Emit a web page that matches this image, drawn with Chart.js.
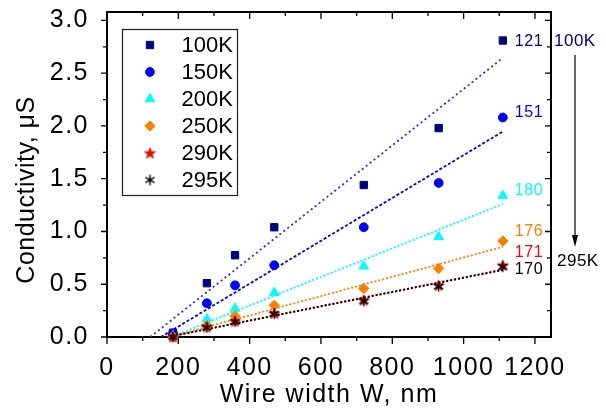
<!DOCTYPE html>
<html>
<head>
<meta charset="utf-8">
<script src="https://cdn.jsdelivr.net/npm/chart.js@4.4.1/dist/chart.umd.min.js"></script>
<style>
  html, body { margin: 0; padding: 0; background: #fff; }
</style>
</head>
<body>
<canvas id="cond" width="606" height="409"></canvas>
<script>
// wire width W, nm
var widths = [185, 280, 359, 469, 720, 930, 1110];
var temps = ['100K', '150K', '200K', '250K', '290K', '295K'];

// conductivity, uS
var g100 = [0.04, 0.51, 0.775, 1.04, 1.44, 1.98, 2.81];
var g150 = [0.035, 0.32, 0.49, 0.68, 1.04, 1.46, 2.08];
var g200 = [0.01, 0.17, 0.27, 0.42, 0.67, 0.95, 1.34];
var g250 = [0.005, 0.11, 0.2, 0.3, 0.46, 0.65, 0.91];
var g290 = [0.0, 0.095, 0.15, 0.225, 0.35, 0.49, 0.68];
var g295 = [0.0, 0.09, 0.145, 0.22, 0.34, 0.48, 0.665];
var series = [g100, g150, g200, g250, g290, g295];

// linear fits: x-intercept (nm) and fitted value at the widest wire
var intercepts = [121, 151, 180, 176, 171, 170];
var fitEnd = [2.645, 1.947, 1.26, 0.854, 0.64, 0.635];
var fitTo = 1110;

var xTicks = [0, 200, 400, 600, 800, 1000, 1200];
var xMinor = [100, 300, 500, 700, 900, 1100];
var yTicks = [0, 0.5, 1, 1.5, 2, 2.5, 3];
var yMinor = [0.25, 0.75, 1.25, 1.75, 2.25, 2.75];

var colors = ['#000080', '#0000ff', '#00ffff', '#ff8000', '#ff0000', '#000000'];
var fitColors = ['#2a2aff', '#0000ff', '#00ffff', '#ff8000', '#ff0000', '#000000'];
var fitDash = [[2, 3], [3, 2], [2, 2], [2, 2], [2, 2], [2, 2]];
// where the intercept numbers sit, in uS
var tagY = [2.81, 2.14, 1.40, 1.01, 0.81, 0.65];

var FONT = '"Liberation Sans", Arial, sans-serif';

function starImage(color) {
    var c = document.createElement('canvas');
    c.width = 13; c.height = 13;
    var g = c.getContext('2d');
    g.fillStyle = color;
    g.strokeStyle = '#b00000';
    g.lineWidth = 0.6;
    g.beginPath();
    for (var k = 0; k < 10; k++) {
        var r = k % 2 ? 2.4 : 6;
        var ang = -Math.PI / 2 + k * Math.PI / 5;
        g.lineTo(6.5 + r * Math.cos(ang), 7 + r * Math.sin(ang));
    }
    g.closePath();
    g.fill();
    g.stroke();
    return c;
}

function asteriskImage(color) {
    var c = document.createElement('canvas');
    c.width = 13; c.height = 13;
    var g = c.getContext('2d');
    g.strokeStyle = color;
    g.lineWidth = 1.4;
    g.beginPath();
    for (var k = 0; k < 3; k++) {
        var ang = Math.PI / 2 + k * Math.PI / 3;
        var dx = 5.3 * Math.cos(ang), dy = 5.3 * Math.sin(ang);
        g.moveTo(6.5 + dx, 6.5 + dy);
        g.lineTo(6.5 - dx, 6.5 - dy);
    }
    g.stroke();
    return c;
}

var markers = ['rect', 'circle', 'triangle', 'rectRot', starImage('#ff0000'), asteriskImage('#000000')];
var radii = [5.2, 4.4, 5.5, 5.2, 6, 6];

var datasets = [];
temps.forEach(function (t, i) {
    datasets.push({
        label: t + ' fit',
        data: [{ x: intercepts[i], y: 0 }, { x: fitTo, y: fitEnd[i] }],
        showLine: true,
        borderColor: fitColors[i],
        borderWidth: 1.8,
        borderDash: fitDash[i],
        pointRadius: 0,
        order: 20 - i
    });
});
// higher temperatures are drawn over the lower ones
temps.forEach(function (t, i) {
    datasets.push({
        label: t,
        data: widths.map(function (w, k) { return { x: w, y: series[i][k] }; }),
        showLine: false,
        pointStyle: markers[i],
        pointRadius: radii[i],
        pointBackgroundColor: colors[i],
        pointBorderColor: colors[i],
        pointBorderWidth: 1,
        clip: false,
        order: 6 - i
    });
});

var framePlugin = {
    id: 'frame',
    beforeDraw: function (chart) {
        chart.ctx.letterSpacing = '1.5px';
    },
    beforeDatasetsDraw: function (chart) {
        var ctx = chart.ctx, a = chart.chartArea;
        var sx = chart.scales.x, sy = chart.scales.y;
        ctx.save();
        ctx.strokeStyle = '#000';
        ctx.lineWidth = 1.3;
        ctx.beginPath();
        function xt(v, len) {
            var p = sx.getPixelForValue(v);
            ctx.moveTo(p, a.bottom); ctx.lineTo(p, a.bottom + len);
            ctx.moveTo(p, a.top); ctx.lineTo(p, a.top + len);
        }
        function yt(v, len) {
            var p = sy.getPixelForValue(v);
            ctx.moveTo(a.left, p); ctx.lineTo(a.left - len, p);
            ctx.moveTo(a.right, p); ctx.lineTo(a.right - len, p);
        }
        xTicks.forEach(function (v) { xt(v, 7); });
        xMinor.forEach(function (v) { xt(v, 4); });
        yTicks.forEach(function (v) { yt(v, 6); });
        yMinor.forEach(function (v) { yt(v, 4); });
        ctx.stroke();
        ctx.lineWidth = 2;
        ctx.strokeRect(a.left, a.top, a.right - a.left, a.bottom - a.top);
        ctx.restore();
    },
    afterDraw: function (chart) {
        var ctx = chart.ctx, a = chart.chartArea;
        var sx = chart.scales.x, sy = chart.scales.y;
        ctx.save();
        ctx.fillStyle = '#000';

        // axis titles
        ctx.letterSpacing = '1.5px';
        ctx.font = '25px ' + FONT;
        ctx.textAlign = 'center';
        ctx.textBaseline = 'alphabetic';
        ctx.fillText('Wire width W, nm', (a.left + a.right) / 2, 401.5);
        ctx.save();
        ctx.letterSpacing = '0.5px';
        ctx.translate(33.5, 190);
        ctx.rotate(-Math.PI / 2);
        ctx.fillText('Conductivity, \u03bcS', 0, 0);
        ctx.restore();

        // legend box
        ctx.letterSpacing = '0px';
        ctx.strokeStyle = '#222';
        ctx.lineWidth = 1.2;
        ctx.strokeRect(a.left + 15.5, a.top + 17.5, 115, 166);
        ctx.font = '22px ' + FONT;
        ctx.textAlign = 'right';
        ctx.textBaseline = 'middle';
        temps.forEach(function (t, i) {
            var y = a.top + 33 + i * 27;
            ctx.fillStyle = colors[i];
            ctx.strokeStyle = colors[i];
            ctx.lineWidth = 1;
            Chart.helpers.drawPoint(ctx, {
                pointStyle: markers[i], radius: radii[i], rotation: 0, borderWidth: 1
            }, a.left + 43, y);
            ctx.fillStyle = '#000';
            ctx.fillText(t, a.left + 126, y + 1);
        });

        // intercept numbers next to the last points
        ctx.letterSpacing = '0.5px';
        ctx.font = '16px ' + FONT;
        ctx.textAlign = 'left';
        ctx.textBaseline = 'middle';
        var tx = sx.getPixelForValue(fitTo) + 12;
        intercepts.forEach(function (v, i) {
            ctx.fillStyle = colors[i];
            ctx.fillText(String(v), tx, sy.getPixelForValue(tagY[i]) + 1);
        });

        // temperature direction arrow
        ctx.font = '17px ' + FONT;
        ctx.fillStyle = colors[0];
        ctx.fillText(temps[0], a.right + 3, 41);
        ctx.fillStyle = '#000';
        ctx.fillText(temps[5], a.right + 6, 261);
        var ax = a.right + 24;
        ctx.strokeStyle = '#000';
        ctx.lineWidth = 1.2;
        ctx.beginPath();
        ctx.moveTo(ax, 55);
        ctx.lineTo(ax, 240);
        ctx.stroke();
        ctx.beginPath();
        ctx.moveTo(ax - 3, 235);
        ctx.lineTo(ax + 3, 235);
        ctx.lineTo(ax, 247);
        ctx.closePath();
        ctx.fill();
        ctx.restore();
    }
};

var tickFont = { family: FONT, size: 25, lineHeight: 1.2 };

var chart = new Chart(document.getElementById('cond'), {
    type: 'scatter',
    data: { datasets: datasets },
    options: {
        responsive: false,
        animation: false,
        events: [],
        layout: { padding: { left: 0, right: 55, top: 12, bottom: 0 } },
        plugins: {
            legend: { display: false },
            tooltip: { enabled: false }
        },
        scales: {
            x: {
                type: 'linear',
                min: 0,
                max: 1245,
                grid: { display: false },
                border: { display: false },
                afterBuildTicks: function (s) {
                    s.ticks = xTicks.map(function (v) { return { value: v }; });
                },
                afterFit: function (s) {
                    s.height = 72;
                    s.paddingLeft = 0; s.paddingRight = 0;
                },
                ticks: {
                    font: tickFont,
                    color: '#000',
                    padding: 8,
                    maxRotation: 0,
                    autoSkip: false,
                    callback: function (v) { return String(v); }
                }
            },
            y: {
                min: 0,
                max: 3.08,
                grid: { display: false },
                border: { display: false },
                afterBuildTicks: function (s) {
                    s.ticks = yTicks.map(function (v) { return { value: v }; });
                },
                afterFit: function (s) {
                    s.width = 107;
                    s.paddingTop = 0; s.paddingBottom = 0;
                },
                ticks: {
                    font: tickFont,
                    color: '#000',
                    padding: 10,
                    autoSkip: false,
                    callback: function (v) { return v.toFixed(1); }
                }
            }
        }
    },
    plugins: [framePlugin]
});
</script>
</body>
</html>
